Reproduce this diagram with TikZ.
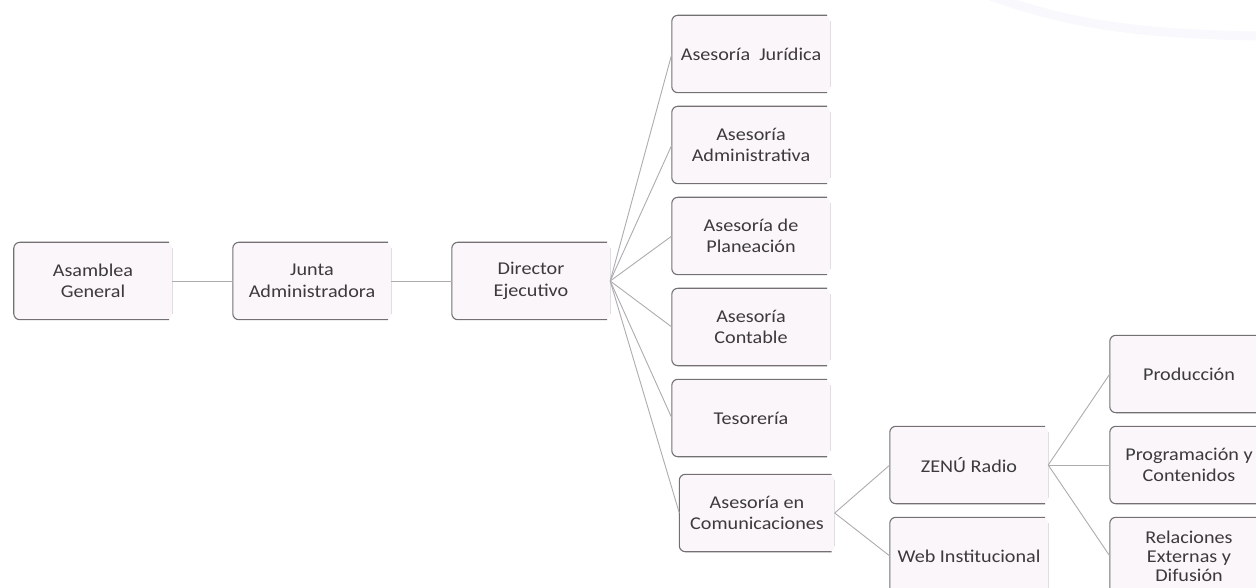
\documentclass[tikz,border=0pt]{standalone}
\usepackage{fontspec}
\setmainfont{Carlito}[FakeStretch=1.12]
\definecolor{boxfill}{RGB}{250,246,250}
\definecolor{boxedge}{RGB}{115,113,115}
\definecolor{boxedgelight}{RGB}{225,222,225}
\definecolor{linec}{RGB}{175,172,175}
\definecolor{txt}{RGB}{60,58,60}
\definecolor{wm}{RGB}{249,248,252}
\begin{document}
\begin{tikzpicture}[x=1bp,y=-1bp,
  obox/.style={rectangle, rounded corners=6bp, fill=boxfill, minimum width=158bp, minimum height=77bp,
    align=center, inner sep=2bp, text=txt, font=\fontsize{18bp}{21.5bp}\selectfont},
  conn/.style={draw=linec, line width=0.9bp},
  edge/.style={draw=boxedge, line width=1.1bp, rounded corners=6bp}]
\useasboundingbox (0,0) rectangle (1256,588);
\fill[white] (0,0) rectangle (1256,588);
\draw[wm, line width=9bp] (990,-4) .. controls (1060,20) and (1120,34) .. (1260,36);
\node[obox] (asam) at (93,281) {Asamblea\\General};
\node[obox] (junta) at (312,281) {Junta\\Administradora};
\node[obox] (dir) at (531,281) {Director\\Ejecutivo};
\node[obox] (jur) at (751,54) {Asesoría\hspace{0.5em}Jurídica};
\node[obox] (adm) at (751,145) {Asesoría\\Administrativa};
\node[obox] (pla) at (751,236) {Asesoría de\\Planeación};
\node[obox] (con) at (751,327) {Asesoría\\Contable};
\node[obox] (tes) at (751,418) {Tesorería};
\node[obox, minimum width=155bp] (com) at (757,513) {Asesoría en\\Comunicaciones};
\node[obox] (zen) at (969,465) {ZENÚ Radio};
\node[obox] (web) at (969,556) {Web Institucional};
\node[obox] (pro) at (1189,374) {Producción};
\node[obox] (prg) at (1189,465) {Programación y\\Contenidos};
\node[obox, font=\fontsize{18bp}{19bp}\selectfont] (rel) at (1189,556) {Relaciones\\Externas y\\Difusión};
\foreach \n in {asam,junta,dir,jur,adm,pla,con,tes,com,zen,web,pro,prg,rel}{
  \draw[draw=boxedgelight, line width=1bp] ([yshift=-6bp]\n.north east) -- ([yshift=6bp]\n.south east);
  \draw[edge] ([xshift=-3bp]\n.north east) -- (\n.north west) -- (\n.south west) -- ([xshift=-3bp]\n.south east);
}
\draw[conn] (asam.east) -- (junta.west);
\draw[conn] (junta.east) -- (dir.west);
\foreach \n in {jur,adm,pla,con,tes,com}{\draw[conn] (dir.east) -- (\n.west);}
\foreach \n in {zen,web}{\draw[conn] (com.east) -- (\n.west);}
\foreach \n in {pro,prg,rel}{\draw[conn] (zen.east) -- (\n.west);}
\end{tikzpicture}
\end{document}
